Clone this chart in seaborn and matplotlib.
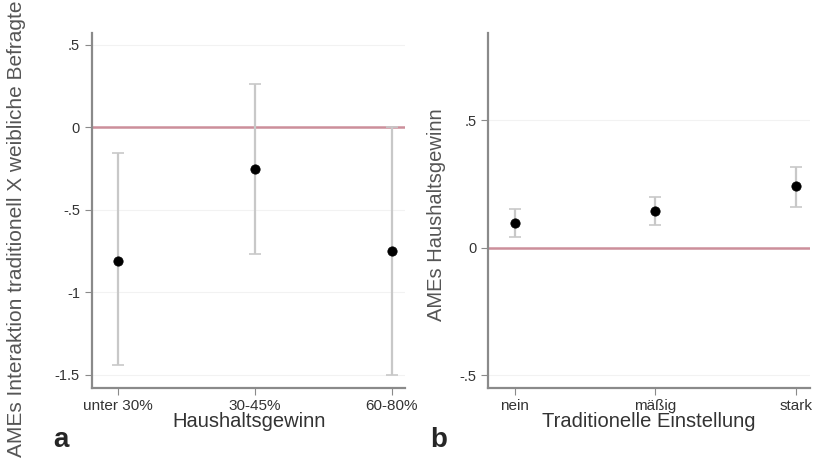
import numpy as np
import pandas as pd
import matplotlib
matplotlib.use("Agg")
import matplotlib.pyplot as plt
import seaborn as sns

# Panel a: Interaktion nach Haushaltsgewinn
gewinn = ["unter 30%", "30-45%", "60-80%"]
ame_a = [-0.81, -0.255, -0.75]
ci_lo_a = [-1.44, -0.77, -1.50]
ci_hi_a = [-0.155, 0.26, 0.0]

# Panel b: Haushaltsgewinn nach traditioneller Einstellung
einstellung = ["nein", "mäßig", "stark"]
ame_b = [0.095, 0.145, 0.24]
ci_lo_b = [0.04, 0.088, 0.16]
ci_hi_b = [0.15, 0.198, 0.315]

yticks_a = [0.5, 0, -0.5, -1, -1.5]
ytick_labels_a = [".5", "0", "-.5", "-1", "-1.5"]
yticks_b = [0.5, 0, -0.5]
ytick_labels_b = [".5", "0", "-.5"]

sns.set_style("white")
plt.rcParams["font.family"] = ["Liberation Sans", "DejaVu Sans"]

fig = plt.figure(figsize=(8.19, 4.61), dpi=100)
ax_a = fig.add_axes([0.112, 0.158, 0.383, 0.77])
ax_b = fig.add_axes([0.596, 0.158, 0.393, 0.77])

spine_col = "#8a8a8a"
ci_col = "#c8c8c8"
zero_col = "#cc8f9b"


def panel(ax, cats, ame, lo, hi, yticks, ylabels, ylim, xlabel, ylabel, ysize):
    df = pd.DataFrame({"kat": cats, "ame": ame})
    ax.axhline(0, color=zero_col, lw=1.8, zorder=1)
    for t in yticks:
        if t != 0:
            ax.axhline(t, color="#f2f2f2", lw=0.8, zorder=0)
    err = [np.array(ame) - np.array(lo), np.array(hi) - np.array(ame)]
    ax.errorbar(cats, ame, yerr=err, fmt="none", ecolor=ci_col,
                elinewidth=1.6, capsize=4, capthick=1.2, zorder=2)
    sns.scatterplot(data=df, x="kat", y="ame", color="black", s=45,
                    edgecolor="black", ax=ax, zorder=3, legend=False)
    ax.set_xlim(-0.19, 2.1)
    ax.set_ylim(*ylim)
    ax.set_yticks(yticks)
    ax.set_yticklabels(ylabels, fontsize=10.5, color="#333333")
    ax.tick_params(axis="x", labelsize=11, colors="#333333", length=5,
                   color=spine_col, direction="out", bottom=True, pad=3)
    ax.tick_params(axis="y", length=5, color=spine_col, direction="out", left=True)
    for s in ["top", "right"]:
        ax.spines[s].set_visible(False)
    for s in ["left", "bottom"]:
        ax.spines[s].set_color(spine_col)
        ax.spines[s].set_linewidth(1.6)
    ax.set_xlabel(xlabel, fontsize=14.5, color="#333333", labelpad=-1)
    ax.set_ylabel(ylabel, fontsize=ysize, color="#555555")


panel(ax_a, gewinn, ame_a, ci_lo_a, ci_hi_a, yticks_a, ytick_labels_a,
      (-1.58, 0.57), "Haushaltsgewinn",
      "AMEs Interaktion traditionell X weibliche Befragte", 15)
panel(ax_b, einstellung, ame_b, ci_lo_b, ci_hi_b, yticks_b, ytick_labels_b,
      (-0.55, 0.84), "Traditionelle Einstellung", "AMEs Haushaltsgewinn", 14.5)

ax_a.yaxis.set_label_coords(-0.21, 0.45)
ax_b.yaxis.set_label_coords(-0.13, 0.49)

fig.text(0.065, 0.03, "a", fontsize=20, fontweight="bold")
fig.text(0.525, 0.03, "b", fontsize=20, fontweight="bold")

fig.savefig("out.png", dpi=100)
